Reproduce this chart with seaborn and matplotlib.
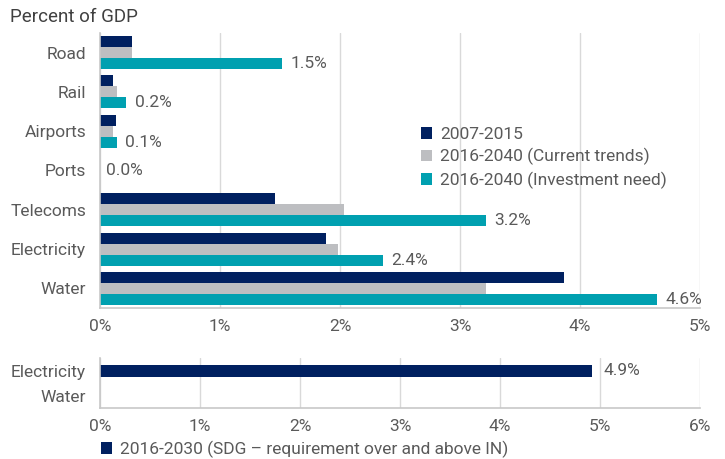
import matplotlib
matplotlib.use("Agg")
import matplotlib.pyplot as plt
import seaborn as sns
import pandas as pd

categories = ["Road", "Rail", "Airports", "Ports", "Telecoms", "Electricity", "Water"]
series = ["2007-2015", "2016-2040 (Current trends)", "2016-2040 (Investment need)"]
v_2007_2015 = [0.27, 0.11, 0.13, 0.0, 1.46, 1.88, 3.87]
v_current = [0.27, 0.14, 0.11, 0.0, 2.03, 1.98, 3.22]
v_need = [1.52, 0.22, 0.14, 0.0, 3.22, 2.36, 4.64]
need_labels = ["1.5%", "0.2%", "0.1%", "0.0%", "3.2%", "2.4%", "4.6%"]

sdg_categories = ["Electricity", "Water"]
sdg_series = "2016-2030 (SDG \u2013 requirement over and above IN)"
sdg_values = [4.92, 0.0]
sdg_labels = ["4.9%", ""]

top_ticks = [0, 1, 2, 3, 4, 5]
bottom_ticks = [0, 1, 2, 3, 4, 5, 6]

NAVY = "#002060"
GREY = "#BDBEC1"
TEAL = "#00A0B0"
TXT = "#5A5A5A"
GRID = "#D9D9D9"
FS = 12.5

sns.set_theme(style="white")
plt.rcParams["font.family"] = ["Roboto", "DejaVu Sans"]

rows = []
for s, vals in zip(series, [v_2007_2015, v_current, v_need]):
    for c, v in zip(categories, vals):
        rows.append({"cat": c, "series": s, "val": v})
df = pd.DataFrame(rows)

fig = plt.figure(figsize=(7.25, 4.59), dpi=100)
ax = fig.add_axes([100/725, 1-308/459, 600/725, 275/459])
sns.barplot(data=df, y="cat", x="val", hue="series", orient="h",
            palette=[NAVY, GREY, TEAL], width=0.84, order=categories,
            hue_order=series, ax=ax, saturation=1, legend=True, linewidth=0)
ax.set_xlim(0, 5)
ax.set_ylim(6.5, -0.5)
ax.set_xticks(top_ticks)
ax.set_xticklabels([f"{t}%" for t in top_ticks])
ax.set_xlabel("")
ax.set_ylabel("")
ax.grid(axis="x", color=GRID, linewidth=1)
ax.set_axisbelow(True)
for s in ["top", "right"]:
    ax.spines[s].set_visible(False)
for s in ["left", "bottom"]:
    ax.spines[s].set_color("#C8C8C8")
    ax.spines[s].set_linewidth(1.2)
ax.tick_params(axis="x", colors=TXT, labelsize=FS, length=5, width=1, color="#C8C8C8", pad=3)
ax.tick_params(axis="y", colors=TXT, labelsize=FS, length=0, pad=10)

# value labels for investment need (all-zero category label centred on category)
need_container = ax.containers[2]
labels_drawn = [lab if v > 0 else "" for lab, v in zip(need_labels, v_need)]
ax.bar_label(need_container, labels=labels_drawn, padding=6, color=TXT, fontsize=FS)
for i, (lab, v) in enumerate(zip(need_labels, v_need)):
    if v == 0:
        ax.annotate(lab, xy=(0, i), xytext=(4, 0), textcoords="offset points",
                    va="center", ha="left", color=TXT, fontsize=FS)

leg = ax.legend(loc="upper left", bbox_to_anchor=(414/725, 1-120/459), bbox_transform=fig.transFigure,
                frameon=False, fontsize=FS, handlelength=0.65, handleheight=0.65,
                handletextpad=0.45, labelspacing=0.36, borderaxespad=0)
for t in leg.get_texts():
    t.set_color(TXT)

fig.text(10/725, 1-17/459, "Percent of GDP", fontsize=13.5, color="#404040", va="center", ha="left")

# bottom chart
df2 = pd.DataFrame({"cat": sdg_categories, "val": sdg_values, "series": [sdg_series]*2})
ax2 = fig.add_axes([100/725, 1-408/459, 600/725, 50/459])
sns.barplot(data=df2, y="cat", x="val", hue="series", orient="h", palette=[NAVY],
            width=0.48, order=sdg_categories, ax=ax2, saturation=1, legend=True, linewidth=0)
ax2.set_xlim(0, 6)
ax2.set_ylim(1.5, -0.5)
ax2.set_xticks(bottom_ticks)
ax2.set_xticklabels([f"{t}%" for t in bottom_ticks])
ax2.set_xlabel("")
ax2.set_ylabel("")
ax2.grid(axis="x", color=GRID, linewidth=1)
ax2.set_axisbelow(True)
for s in ["top", "right"]:
    ax2.spines[s].set_visible(False)
for s in ["left", "bottom"]:
    ax2.spines[s].set_color("#C8C8C8")
    ax2.spines[s].set_linewidth(1.2)
ax2.tick_params(axis="x", colors=TXT, labelsize=FS, length=5, width=1, color="#C8C8C8", pad=3)
ax2.tick_params(axis="y", colors=TXT, labelsize=FS, length=0, pad=10)
ax2.bar_label(ax2.containers[0], labels=sdg_labels, padding=8, color=TXT, fontsize=FS)

leg2 = ax2.legend(loc="upper left", bbox_to_anchor=(94/725, 1-434/459), bbox_transform=fig.transFigure,
                  frameon=False, fontsize=FS, handlelength=0.65, handleheight=0.65,
                  handletextpad=0.45, borderaxespad=0)
for t in leg2.get_texts():
    t.set_color(TXT)

fig.savefig("out.png", dpi=100, facecolor="white")
